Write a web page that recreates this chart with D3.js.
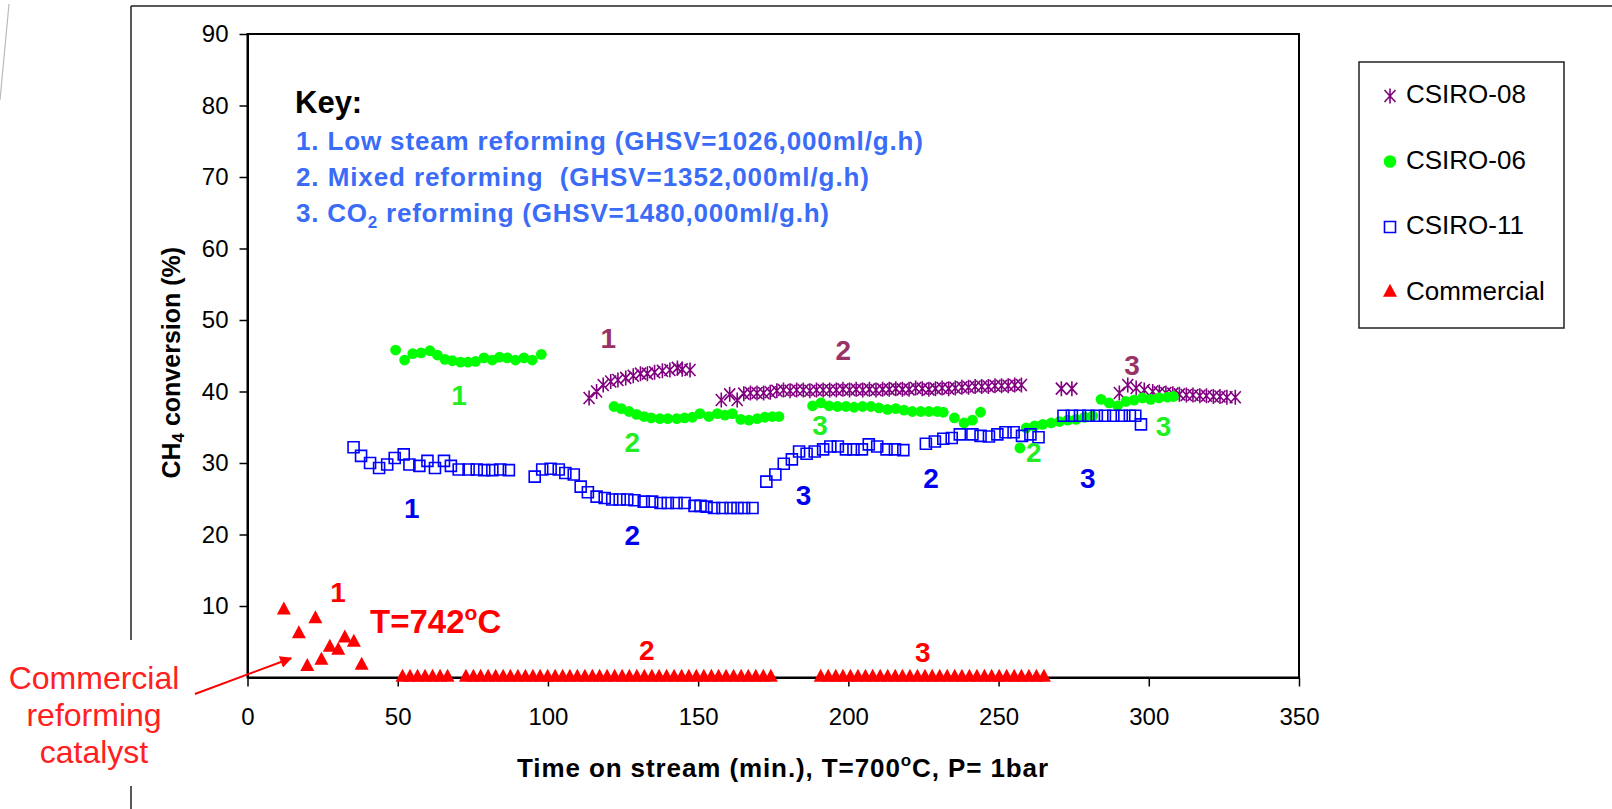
<!DOCTYPE html>
<html>
<head>
<meta charset="utf-8">
<script src="https://cdn.jsdelivr.net/npm/d3@7"></script>
<style>
  body { margin: 0; background: #fff; }
  svg { display: block; font-family: "Liberation Sans", Arial, sans-serif; }
</style>
</head>
<body>
<div id="container"></div>
<script>
const width = 1612, height = 809;

/** -------------- DATA -------------- */

const xTicks = [0, 50, 100, 150, 200, 250, 300, 350];
const yTicks = [10, 20, 30, 40, 50, 60, 70, 80, 90];

const seriesNames = ["CSIRO-08", "CSIRO-06", "CSIRO-11", "Commercial"];

// [time on stream (min), CH4 conversion (%)]
const csiro08 = [
  [113.7, 39.1], [116.2, 40.0], [118.4, 40.9], [120.9, 41.4], [123.3, 41.6], [125.9, 41.9],
  [128.4, 42.2], [130.8, 42.5], [133.1, 42.5], [135.5, 42.7], [138.1, 42.9], [140.6, 43.0],
  [143.1, 43.3], [144.7, 43.1], [147.3, 43.0],
  [157.7, 38.8], [160.5, 39.6], [163.0, 38.8], [165.2, 39.7], [167.4, 39.8], [169.6, 39.8],
  [171.8, 39.8], [174.0, 39.9], [176.2, 40.1], [178.4, 40.2], [180.6, 40.1], [182.8, 40.2],
  [185.0, 40.2], [187.2, 40.1], [189.4, 40.2], [191.6, 40.2], [193.8, 40.2], [196.0, 40.2],
  [198.2, 40.3], [200.4, 40.2], [202.6, 40.3], [204.8, 40.2], [207.0, 40.3], [209.2, 40.2],
  [211.4, 40.3], [213.6, 40.3], [215.8, 40.4], [218.0, 40.3], [220.2, 40.3], [222.4, 40.5],
  [224.6, 40.4], [226.8, 40.3], [229.0, 40.4], [231.2, 40.5], [233.4, 40.4], [235.6, 40.5],
  [237.8, 40.6], [240.0, 40.6], [242.2, 40.7], [244.4, 40.7], [246.6, 40.7], [248.8, 40.8],
  [251.0, 40.8], [253.2, 40.8], [255.4, 40.9], [257.6, 40.9],
  [270.9, 40.4], [274.4, 40.4],
  [290.2, 39.8], [293.0, 40.9], [295.8, 40.5], [298.5, 40.2], [301.3, 40.0], [303.5, 39.9],
  [305.7, 39.8], [308.0, 39.7], [310.2, 39.6], [312.5, 39.5], [314.7, 39.5], [317.0, 39.4],
  [319.2, 39.4], [321.5, 39.3], [323.7, 39.3], [326.0, 39.2], [328.8, 39.2]
];

const csiro06 = [
  [49.3, 45.8], [52.3, 44.4], [55.0, 45.3], [57.8, 45.4], [60.7, 45.7], [63.2, 45.1],
  [65.7, 44.5], [68.2, 44.3], [70.9, 44.1], [73.4, 44.1], [75.9, 44.2], [78.7, 44.7],
  [81.5, 44.4], [83.9, 44.8], [86.5, 44.7], [89.2, 44.4], [92.0, 44.7], [94.8, 44.4], [97.8, 45.2],
  [122.0, 37.9], [124.4, 37.6], [127.0, 37.2], [129.5, 36.8], [132.0, 36.5], [134.4, 36.3],
  [137.3, 36.2], [139.9, 36.2], [142.9, 36.2], [145.5, 36.3], [148.1, 36.4], [150.6, 36.9],
  [153.6, 36.5], [156.4, 36.9], [158.9, 36.7], [161.4, 36.9], [164.2, 36.1], [166.9, 36.0],
  [169.7, 36.2], [172.2, 36.4], [174.7, 36.5], [176.9, 36.5],
  [188.1, 38.0], [190.9, 38.4], [193.6, 38.0], [196.4, 37.9], [199.2, 37.9], [201.9, 37.8],
  [204.7, 37.9], [207.5, 37.9], [210.2, 37.7], [213.0, 37.5], [215.8, 37.6], [218.5, 37.4],
  [221.3, 37.2], [224.1, 37.2], [226.8, 37.2], [229.6, 37.2], [231.6, 37.1],
  [235.3, 36.3], [238.5, 35.6], [241.3, 36.0], [244.0, 37.1],
  [257.1, 32.1], [259.2, 34.9], [262.0, 35.2], [264.7, 35.4], [267.5, 35.6], [270.3, 35.8],
  [273.0, 36.0], [275.8, 36.1], [278.6, 36.4], [281.3, 36.6],
  [284.1, 38.9], [286.8, 38.4], [289.6, 38.0], [292.4, 38.6], [295.1, 38.8], [297.9, 39.1],
  [300.6, 38.9], [303.4, 39.1], [306.2, 39.2], [308.2, 39.3]
];

const csiro11 = [
  [35.3, 32.2], [37.8, 31.0], [40.8, 30.0], [43.8, 29.3], [46.5, 29.8], [49.0, 30.7],
  [52.0, 31.2], [53.9, 29.8], [57.2, 29.6], [59.9, 30.3], [62.4, 29.3], [65.4, 30.3],
  [67.7, 29.6], [70.3, 29.1], [73.6, 29.1], [76.3, 29.1], [78.8, 29.0], [81.5, 29.0],
  [84.1, 29.1], [87.0, 29.0],
  [95.6, 28.1], [98.1, 29.1], [100.9, 29.2], [103.6, 29.1], [105.8, 28.6], [108.6, 28.4],
  [110.9, 26.7], [113.3, 25.9], [116.2, 25.3], [118.9, 25.1], [121.4, 24.9], [123.9, 24.9],
  [126.4, 24.9], [128.8, 24.8], [131.9, 24.6], [134.7, 24.6], [137.5, 24.4], [139.9, 24.4],
  [142.8, 24.4], [145.5, 24.4], [148.8, 24.0], [150.8, 24.0], [152.8, 23.9], [155.3, 23.7],
  [158.1, 23.7], [160.8, 23.7], [163.1, 23.7], [165.3, 23.7], [168.1, 23.7],
  [172.7, 27.4], [175.7, 28.4], [178.5, 29.9], [181.2, 30.5], [183.6, 31.6], [186.1, 31.3],
  [188.8, 31.6], [191.6, 31.9], [194.0, 32.3], [196.5, 32.3], [199.2, 31.9], [201.7, 31.9],
  [204.5, 31.9], [206.8, 32.6], [209.6, 32.3], [212.7, 31.9], [215.5, 31.9], [218.3, 31.8],
  [225.8, 32.7], [228.8, 33.0], [231.6, 33.4], [234.4, 33.5], [237.1, 34.0], [241.3, 34.0],
  [244.0, 33.8], [246.8, 33.7], [249.6, 34.0], [252.3, 34.3], [255.0, 34.3], [257.8, 33.8],
  [260.6, 34.0], [263.3, 33.6],
  [271.6, 36.6], [274.4, 36.6], [277.1, 36.6], [279.9, 36.6], [282.7, 36.6], [285.4, 36.6],
  [288.2, 36.6], [291.0, 36.6], [293.7, 36.6], [295.5, 36.6], [297.4, 35.4]
];

const commercial = [
  [12.1, 9.4], [17.1, 6.1], [19.9, 1.5], [22.6, 8.2], [24.6, 2.4], [27.4, 4.2],
  [30.2, 3.8], [32.4, 5.5], [35.4, 4.9], [38.0, 1.7],
  [51.6, 0], [54.1, 0], [56.6, 0], [59.1, 0], [61.6, 0], [64.1, 0], [66.6, 0],
  [72.7, 0], [75.2, 0], [77.6, 0], [80.1, 0], [82.6, 0], [85.1, 0], [87.5, 0], [90.0, 0],
  [92.5, 0], [95.0, 0], [97.4, 0], [99.9, 0], [102.4, 0], [104.9, 0], [107.3, 0], [109.8, 0],
  [112.3, 0], [114.8, 0], [117.2, 0], [119.7, 0], [122.2, 0], [124.7, 0], [127.1, 0], [129.6, 0],
  [132.1, 0], [134.6, 0], [137.0, 0], [139.5, 0], [142.0, 0], [144.5, 0], [146.9, 0], [149.4, 0],
  [151.9, 0], [154.4, 0], [156.8, 0], [159.3, 0], [161.8, 0], [164.3, 0], [166.7, 0], [169.2, 0],
  [171.7, 0], [174.2, 0],
  [190.8, 0], [193.3, 0], [195.8, 0], [198.2, 0], [200.7, 0], [203.2, 0], [205.7, 0], [208.1, 0],
  [210.6, 0], [213.1, 0], [215.6, 0], [218.0, 0], [220.5, 0], [223.0, 0], [225.5, 0], [227.9, 0],
  [230.4, 0], [232.9, 0], [235.4, 0], [237.8, 0], [240.3, 0], [242.8, 0], [245.3, 0], [247.7, 0],
  [250.2, 0], [252.7, 0], [255.2, 0], [257.6, 0], [260.1, 0], [262.6, 0], [265.1, 0]
];

// run numbers written next to each segment: [label, time, conversion, series]
const runLabels = [
  ["1", 120.1, 47.5, 0], ["2", 198.3, 45.8, 0], ["3", 294.4, 43.7, 0],
  ["1", 70.4, 39.5, 1], ["2", 128.1, 33.0, 1], ["3", 190.6, 35.3, 1],
  ["2", 261.7, 31.6, 1], ["3", 304.9, 35.2, 1],
  ["1", 54.7, 23.7, 2], ["2", 128.1, 19.9, 2], ["3", 185.1, 25.5, 2],
  ["2", 227.5, 27.9, 2], ["3", 279.7, 27.9, 2],
  ["1", 30.1, 12.0, 3], ["2", 132.9, 3.8, 3], ["3", 224.8, 3.6, 3]
];

const keyLines = [
  "1. Low steam reforming (GHSV=1026,000ml/g.h)",
  "2. Mixed reforming\u00a0\u00a0(GHSV=1352,000ml/g.h)",
  "3. CO|2| reforming (GHSV=1480,000ml/g.h)"
];

/** -------------- SCALES -------------- */

const x = d3.scaleLinear([0, 350], [247.5, 1299]);
const y = d3.scaleLinear([0, 90], [677.5, 34]);

const colors = ["#800080", "#00ff00", "#0000ff", "#ff0000"];
const labelColors = ["#993366", "#22ee22", "#0000ee", "#ff0000"];
const keyBlue = "#3b6cf7";

const shapes = [
  "M-5.5,-6L5.5,6M-5.5,6L5.5,-6M0,-7.5V7.5",   // asterisk
  null,                                         // circle
  "M-5.5,-5.5H5.5V5.5H-5.5Z",                   // square
  "M0,-8.7L7,4.3L-7,4.3Z"                       // triangle
];

/** -------------- APPEND TO DOM -------------- */

const svg = d3.select("#container")
  .append("svg")
  .attr("width", width)
  .attr("height", height);

svg.append("rect").attr("width", width).attr("height", height).attr("fill", "#fff");

// outer frame of the slide
svg.append("path")
  .attr("d", "M131,6H1612M131,6V640M131,786V809")
  .attr("fill", "none").attr("stroke", "#222").attr("stroke-width", 1.5);
svg.append("path")
  .attr("d", "M9,4L0,100")
  .attr("stroke", "#bbb").attr("stroke-width", 1.2);

// plot area border
svg.append("rect")
  .attr("x", x(0)).attr("y", y(90))
  .attr("width", x(350) - x(0)).attr("height", y(0) - y(90))
  .attr("fill", "none").attr("stroke", "#000").attr("stroke-width", 2);

const xAxis = svg.append("g")
  .attr("transform", `translate(0,${y(0)})`)
  .call(d3.axisBottom(x).tickValues(xTicks).tickSize(9).tickSizeOuter(0).tickPadding(21));

const yAxis = svg.append("g")
  .attr("transform", `translate(${x(0)},0)`)
  .call(d3.axisLeft(y).tickValues(yTicks).tickSize(8).tickSizeOuter(0).tickPadding(11));

[xAxis, yAxis].forEach(a => {
  a.select(".domain").attr("stroke", "#000").attr("stroke-width", 2);
  a.selectAll(".tick line").attr("stroke", "#000").attr("stroke-width", 1.5);
  a.selectAll(".tick text")
    .attr("fill", "#000")
    .style("font-family", "'Liberation Sans', Arial, sans-serif")
    .style("font-size", "24px");
});

// axis titles
svg.append("text")
  .attr("x", 517).attr("y", 777)
  .attr("textLength", 531).attr("lengthAdjust", "spacing")
  .style("font-size", "26px").style("font-weight", "bold")
  .call(t => {
    t.append("tspan").text("Time on stream (min.), T=700");
    t.append("tspan").attr("dy", -11).style("font-size", "17px").text("o");
    t.append("tspan").attr("dy", 11).text("C, P= 1bar");
  });

svg.append("text")
  .attr("transform", `translate(180,${(y(0) + y(90)) / 2 + 7}) rotate(-90)`)
  .attr("text-anchor", "middle")
  .style("font-size", "25px").style("font-weight", "bold")
  .call(t => {
    t.append("tspan").text("CH");
    t.append("tspan").attr("dy", 4).style("font-size", "17px").text("4");
    t.append("tspan").attr("dy", -4).text(" conversion (%)");
  });

/** -------------- MARKERS -------------- */

const allSeries = [csiro08, csiro06, csiro11, commercial];

allSeries.forEach((data, i) => {
  const g = svg.append("g");
  if (shapes[i] === null) {
    g.selectAll("circle")
      .data(data)
      .join("circle")
        .attr("cx", d => x(d[0]))
        .attr("cy", d => y(d[1]))
        .attr("r", 5.4)
        .attr("fill", colors[i]);
  } else {
    g.selectAll("path")
      .data(data)
      .join("path")
        .attr("transform", d => `translate(${x(d[0])},${y(d[1])})`)
        .attr("d", shapes[i])
        .attr("fill", i === 3 ? colors[i] : "none")
        .attr("stroke", colors[i])
        .attr("stroke-width", i === 3 ? 0 : 1.6);
  }
});

// run number labels
svg.append("g")
  .selectAll("text")
  .data(runLabels)
  .join("text")
    .attr("x", d => x(d[1]))
    .attr("y", d => y(d[2]))
    .attr("dy", "0.36em")
    .attr("text-anchor", "middle")
    .attr("fill", d => labelColors[d[3]])
    .style("font-size", "28px").style("font-weight", "bold")
    .text(d => d[0]);

// T=742oC for the commercial run 1
svg.append("text")
  .attr("x", x(40.8)).attr("y", y(6.2))
  .attr("fill", "#ff0000")
  .style("font-size", "33px").style("font-weight", "bold")
  .call(t => {
    t.append("tspan").text("T=742");
    t.append("tspan").attr("dy", -13).style("font-size", "21px").text("o");
    t.append("tspan").attr("dy", 13).text("C");
  });

// key
svg.append("text")
  .attr("x", 295).attr("y", 113)
  .style("font-size", "31px").style("font-weight", "bold")
  .text("Key:");

const keyWidths = [627, 573, 533];
keyLines.forEach((line, i) => {
  const parts = line.split("|");
  const t = svg.append("text")
    .attr("x", 296).attr("y", 150 + i * 36)
    .attr("fill", keyBlue)
    .attr("textLength", keyWidths[i]).attr("lengthAdjust", "spacing")
    .style("font-size", "26px").style("font-weight", "bold");
  t.append("tspan").text(parts[0]);
  if (parts.length > 1) {
    t.append("tspan").attr("dy", 6).style("font-size", "17px").text(parts[1]);
    t.append("tspan").attr("dy", -6).text(parts[2]);
  }
});

// commercial catalyst annotation with arrow
svg.append("defs").append("marker")
  .attr("id", "arrow")
  .attr("viewBox", "0 0 10 10")
  .attr("refX", 9).attr("refY", 5)
  .attr("markerWidth", 7).attr("markerHeight", 6)
  .attr("markerUnits", "strokeWidth")
  .attr("orient", "auto")
  .append("path").attr("d", "M0,0L10,5L0,10Z").attr("fill", "#ff0000");

svg.append("line")
  .attr("x1", x(-17.5)).attr("y1", y(-2.3))
  .attr("x2", x(14.5)).attr("y2", y(2.7))
  .attr("stroke", "#ff0000").attr("stroke-width", 2)
  .attr("marker-end", "url(#arrow)");

svg.append("g")
  .selectAll("text")
  .data(["Commercial", "reforming", "catalyst"])
  .join("text")
    .attr("x", 94)
    .attr("y", (d, i) => 689 + i * 37)
    .attr("text-anchor", "middle")
    .attr("fill", "#ff2020")
    .style("font-size", "32px")
    .text(d => d);

/** -------------- LEGEND -------------- */

const legend = svg.append("g");
legend.append("rect")
  .attr("x", 1359).attr("y", 62)
  .attr("width", 205).attr("height", 266)
  .attr("fill", "#fff").attr("stroke", "#222").attr("stroke-width", 1.5);

const legendItems = legend.selectAll("g.item")
  .data(seriesNames)
  .join("g")
    .attr("class", "item")
    .attr("transform", (d, i) => `translate(1390,${96 + i * 65.5})`);

legendItems.each(function (d, i) {
  const g = d3.select(this);
  if (shapes[i] === null) {
    g.append("circle").attr("r", 6.3).attr("fill", colors[i]);
  } else {
    g.append("path")
      .attr("d", shapes[i])
      .attr("fill", i === 3 ? colors[i] : "none")
      .attr("stroke", colors[i])
      .attr("stroke-width", i === 3 ? 0 : 1.6);
  }
  g.append("text")
    .attr("x", 16).attr("y", 7)
    .style("font-size", "26px")
    .text(d);
});
</script>
</body>
</html>
